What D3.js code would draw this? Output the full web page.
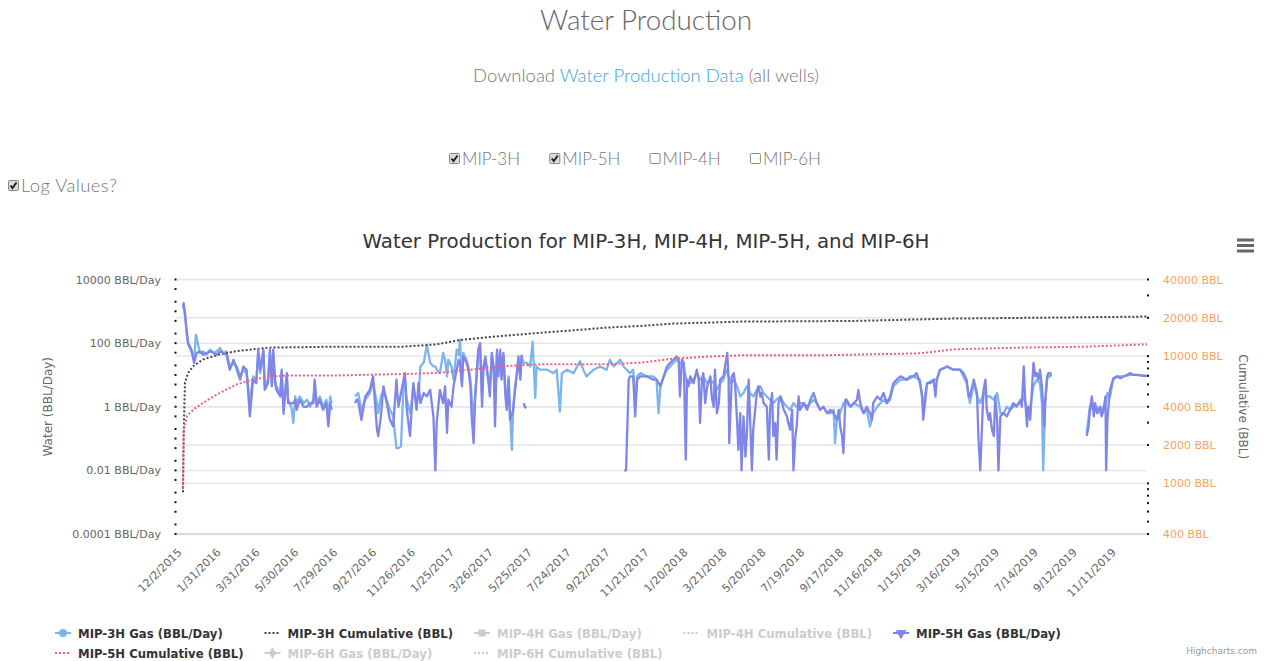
<!DOCTYPE html>
<html>
<head>
<meta charset="utf-8">
<script src="https://cdn.jsdelivr.net/npm/d3@7"></script>
<style>
  html, body { margin: 0; padding: 0; background: #fff; }
  svg { display: block; }
</style>
</head>
<body>
<svg id="page" width="1269" height="661"></svg>
<script>
// ---- Data -----------------------------------------------------------------
// x values are days since first production (12/2/2015)
const tickLabels = ["12/2/2015","1/31/2016","3/31/2016","5/30/2016","7/29/2016","9/27/2016",
  "11/26/2016","1/25/2017","3/26/2017","5/25/2017","7/24/2017","9/22/2017","11/21/2017",
  "1/20/2018","3/21/2018","5/20/2018","7/19/2018","9/17/2018","11/16/2018","1/15/2019",
  "3/16/2019","5/15/2019","7/14/2019","9/12/2019","11/11/2019"];
const tickIntervalDays = 60;
const lastDay = 1486;

const gasTicks = [0.0001, 0.01, 1, 100, 10000];
const cumTicks = [400, 1000, 2000, 4000, 10000, 20000, 40000];

const wellOptions = [
  { name: "MIP-3H", checked: true },
  { name: "MIP-5H", checked: true },
  { name: "MIP-4H", checked: false },
  { name: "MIP-6H", checked: false }
];

// MIP-3H daily water (BBL/Day)
const mip3hGas = [[0,1200],[1,1500],[3,700],[6,180],[8,90],[13,55],[17,30],[20,184],[24,79],[26,49],[31,55],[36,43],[42,62],[47,49],[52,55],[57,70],[62,49],[67,55],[72,18.5],[78,24],[83,18.5],[88,9],[93,14.6],[98,11.4],[103,1.3],[108,9],[113,7.1],[116,49],[119,11.4],[124,49],[126,4.4],[131,7.1],[134,49],[137,5.5],[139,49],[142,7.1],[144,4.4],[150,2.7],[152,11.4],[155,1.0],[160,9],[162,1.66],[167,1.0],[170,0.31],[173,2.1],[175,1.3],[180,2.1],[186,1.3],[191,1.66],[196,1.0],[201,1.66],[203,5.5],[206,1.3],[211,2.1],[216,1.0],[221,1.66],[224,0.5],[227,2.1],[229,1.3],[247,null],
  [265,2.1],[270,2.7],[275,0.8],[281,1.66],[288,2.7],[293,5.5],[299,1.3],[301,0.63],[305,2.1],[309,3.4],[314,1.66],[319,0.8],[324,0.5],[329,0.05],[332,0.05],[336,0.057],[340,5.5],[342,7.1],[345,1.66],[350,0.63],[353,1.66],[355,4.4],[360,1.3],[363,2.1],[366,18.5],[371,24],[376,89],[381,24],[386,18.5],[389,18.5],[391,14.6],[396,11.4],[401,49],[404,30],[407,9],[409,30],[414,18.5],[417,7.1],[422,62],[425,43],[427,128],[430,5.5],[432,49],[437,30],[440,18.5],[443,7.1],[445,2.1],[448,0.24],[450,2.1],[455,38],[458,62],[461,2.1],[463,18.5],[466,30],[471,7.1],[473,4.4],[476,38],[479,18.5],[481,1.0],[484,49],[486,14.6],[489,49],[491,9],[494,38],[497,3.4],[499,1.3],[502,9],[504,0.8],[507,0.044],[509,1.0],[512,4.4],[515,11.4],[517,30],[520,9],[522,38],[525,24],[530,24],[535,18.5],[539,110],[543,1.9],[545,18.5],[550,14.6],[561,14.6],[571,11.4],[576,14.6],[581,0.7],[584,11.4],[592,14.6],[602,11.4],[612,27],[617,14.6],[622,9],[633,14.6],[643,18.5],[653,14.6],[658,30],[664,18.5],[674,30],[679,18.5],[684,14.6],[689,11.4],[694,14.6],[697,1.0],[700,9],[705,11.4],[715,9],[725,9],[730,7.1],[733,0.63],[736,4.4],[741,9],[746,14.6],[751,18.5],[756,24],[761,30],[766,24],[772,18.5],[777,5.5],[782,5.5],[787,7.1],[792,11.4],[797,7.1],[802,9],[808,5.5],[813,7.1],[818,5.5],[823,3.4],[828,5.5],[833,7.1],[838,14.6],[844,5.5],[849,7.1],[854,4.4],[859,2.1],[864,2.7],[869,4.4],[874,2.7],[879,2.1],[885,3.4],[890,4.4],[895,2.7],[900,2.1],[905,1.66],[910,1.3],[915,1.66],[921,2.1],[926,1.3],[931,1.0],[936,0.8],[941,1.3],[946,1.0],[951,1.3],[957,1.3],[962,1.0],[967,1.3],[972,1.66],[977,1.3],[982,0.8],[987,1.0],[993,0.63],[998,0.63],[1003,0.8],[1005,0.072],[1008,0.39],[1013,0.63],[1018,1.3],[1023,1.3],[1029,1.0],[1034,1.3],[1044,1.0],[1049,0.63],[1054,0.8],[1059,0.24],[1064,0.63],[1070,1.0],[1075,1.3],[1080,1.66],[1085,1.3],[1090,1.66],[1095,4.4],[1100,5.5],[1106,7.1],[1116,7.1],[1126,9],[1136,7.1],[1141,1.0],[1147,5.5],[1157,7.1],[1162,7.1],[1167,14.6],[1178,18.5],[1188,14.6],[1198,14.6],[1208,5.5],[1213,1.3],[1219,5.5],[1224,2.1],[1229,1.3],[1234,2.7],[1239,2.1],[1244,2.1],[1250,1.66],[1255,2.7],[1260,0.63],[1265,0.63],[1270,1.0],[1275,0.8],[1280,1.0],[1291,1.3],[1296,2.1],[1301,0.8],[1306,1.0],[1311,4.4],[1316,7.1],[1321,5.5],[1324,1.3],[1326,0.01],[1328,0.24],[1329,1.3],[1332,7.1],[1334,9],[1338,9],[1360,null],
  [1393,0.15],[1398,1.0],[1404,0.8],[1409,1.0],[1414,0.63],[1419,1.0],[1422,1.3],[1425,2.7],[1429,2.1],[1432,4.4],[1434,7.1],[1440,9],[1450,9],[1460,10],[1470,10],[1486,9.4]];

// MIP-3H cumulative water (BBL)
const mip3hCum = [[0,850],[1,2350],[3,6180],[8,7400],[16,8360],[31,9420],[57,10330],[83,10960],[134,11660],[237,11870],[340,11870],[391,12370],[427,13380],[473,14130],[540,15100],[602,15960],[653,16750],[705,17260],[756,18010],[807,18330],[859,18670],[1034,18890],[1188,19720],[1342,20090],[1486,20460]];

// MIP-5H daily water (BBL/Day)
const mip5hGas = [[0,1400],[1,1800],[3,880],[6,210],[8,100],[13,62],[17,24],[21,49],[26,55],[31,43],[36,49],[42,55],[47,49],[52,43],[57,55],[62,49],[67,43],[72,14.6],[78,30],[83,14.6],[88,7.1],[93,18.5],[98,14.6],[103,0.5],[108,7.1],[113,5.5],[116,62],[119,14.6],[124,62],[126,3.4],[131,5.5],[134,62],[137,4.4],[139,62],[142,5.5],[144,3.4],[150,2.1],[152,14.6],[155,0.6],[160,11.4],[162,1.3],[167,1.3],[170,1.3],[173,1.66],[175,0.8],[180,1.66],[186,1.0],[191,1.0],[196,1.3],[201,1.3],[203,7.1],[206,1.0],[211,1.66],[216,0.8],[221,1.3],[224,0.24],[227,1.3],[229,0.8],[247,null],
  [265,1.3],[268,1.7],[270,1.5],[275,0.39],[281,2.1],[288,3.4],[293,9],[299,0.19],[301,0.12],[305,0.5],[309,4.4],[314,1.3],[319,0.39],[324,0.24],[329,7.1],[332,1.0],[340,7.1],[342,11.4],[345,0.8],[350,0.12],[353,1.3],[355,5.5],[360,0.8],[363,5.5],[366,1.3],[371,2.7],[376,2.1],[381,3.4],[386,0.5],[389,0.01],[391,0.3],[396,3.4],[401,1.3],[404,4.4],[407,0.15],[409,1.66],[414,1.0],[417,4.4],[422,14.6],[425,30],[427,24],[430,4.4],[432,38],[437,24],[440,14.6],[443,4.4],[445,0.5],[448,0.072],[450,1.3],[455,62],[458,100],[461,1.0],[463,14.6],[466,38],[471,5.5],[473,2.1],[476,49],[479,14.6],[481,0.24],[484,62],[486,9],[489,62],[491,7.1],[494,49],[497,2.1],[499,0.8],[502,7.1],[504,0.39],[507,0.6],[509,0.8],[512,3.4],[515,14.6],[517,38],[520,7.1],[522,43],[523,null],[525,1.3],[527,1.0],[529,0.9],[530,null],
  [680,0.01],[683,0.01],[687,7.1],[689,9],[694,9],[697,0.5],[700,7.1],[705,9],[715,9],[725,7.1],[730,7.1],[736,4.4],[741,9],[746,18.5],[751,24],[756,30],[761,38],[764,30],[766,2.1],[769,30],[772,24],[775,0.022],[777,7.1],[779,4.4],[782,9],[787,5.5],[792,14.6],[795,7.1],[797,0.31],[800,7.1],[802,11.4],[805,1.3],[808,4.4],[813,9],[815,2.1],[818,1.0],[820,14.6],[823,0.63],[826,1.3],[828,7.1],[833,9],[839,49],[841,7.1],[842,0.072],[846,9],[849,11.4],[851,5.5],[854,0.39],[856,0.044],[859,0.63],[861,0.01],[864,0.5],[867,0.027],[869,0.12],[872,7.1],[874,0.5],[877,0.01],[879,0.19],[882,0.8],[885,3.4],[887,4.4],[890,2.1],[892,2.7],[895,1.3],[900,1.0],[903,0.022],[905,0.8],[908,2.7],[910,0.12],[913,0.31],[915,0.022],[918,1.3],[921,2.1],[926,0.8],[931,0.5],[933,0.31],[936,0.19],[939,0.8],[941,0.01],[944,0.12],[946,0.24],[949,2.1],[951,0.8],[957,1.3],[962,0.8],[967,1.66],[972,2.7],[977,1.3],[982,0.8],[987,1.0],[993,0.63],[998,0.8],[1003,0.63],[1008,0.39],[1011,0.8],[1013,0.24],[1016,0.12],[1018,0.035],[1021,1.66],[1023,1.66],[1029,1.0],[1034,1.3],[1039,1.66],[1041,3.4],[1044,1.3],[1049,0.63],[1054,1.0],[1059,0.63],[1062,0.39],[1064,1.3],[1070,2.1],[1075,1.66],[1080,2.7],[1085,1.3],[1090,2.1],[1095,5.5],[1100,7.1],[1106,9],[1116,7.1],[1121,9],[1126,9],[1131,11.4],[1136,5.5],[1139,2.7],[1141,0.39],[1147,5.5],[1152,5.5],[1157,7.1],[1160,2.1],[1162,7.1],[1167,14.6],[1172,16],[1178,18.5],[1183,16],[1188,14.6],[1193,14.6],[1198,14.6],[1203,11.4],[1208,7.1],[1211,2.1],[1213,2.1],[1219,7.1],[1224,2.7],[1226,0.12],[1229,0.01],[1231,0.12],[1234,3.4],[1237,7.1],[1239,0.8],[1242,0.39],[1244,0.63],[1247,0.19],[1250,0.12],[1252,2.1],[1255,0.39],[1257,0.01],[1260,0.5],[1265,0.63],[1270,0.5],[1275,0.8],[1280,1.3],[1285,1.0],[1291,1.66],[1293,1.0],[1296,18.5],[1298,2.1],[1301,0.24],[1303,1.0],[1306,0.39],[1311,24],[1314,9],[1316,11.4],[1319,7.1],[1321,14.6],[1324,4.4],[1328,0.24],[1329,1.3],[1332,9],[1334,11.4],[1337,11.4],[1338,9],[1360,null],
  [1393,0.12],[1396,0.24],[1398,0.8],[1401,2.1],[1404,0.5],[1406,1.3],[1409,0.63],[1414,1.0],[1416,0.5],[1419,0.8],[1422,2.1],[1423,0.01],[1425,0.39],[1427,1.3],[1429,3.4],[1432,5.5],[1434,7.8],[1440,9],[1445,7.8],[1450,9],[1455,10],[1460,11.4],[1465,10],[1470,10],[1481,9.4],[1486,9.4]];

// MIP-5H cumulative water (BBL)
const mip5hCum = [[0,900],[1,2650],[6,3370],[16,3810],[31,4300],[57,5150],[83,6000],[108,6560],[134,6890],[160,7050],[237,7050],[340,7230],[396,7400],[422,7630],[448,7870],[499,8360],[551,8620],[653,8620],[705,8880],[756,9550],[807,9900],[859,10140],[982,10140],[1136,10520],[1188,11300],[1291,11660],[1393,11870],[1486,12370]];

// Series in legend order
const seriesList = [
  { name: "MIP-3H Gas (BBL/Day)",    color: "#7cb5ec", data: mip3hGas, axis: "gas", dotted: false, marker: "circle",   visible: true },
  { name: "MIP-3H Cumulative (BBL)", color: "#434348", data: mip3hCum, axis: "cum", dotted: true,  marker: null,       visible: true },
  { name: "MIP-4H Gas (BBL/Day)",    color: "#90ed7d", data: [],       axis: "gas", dotted: false, marker: "square",   visible: false },
  { name: "MIP-4H Cumulative (BBL)", color: "#f7a35c", data: [],       axis: "cum", dotted: true,  marker: null,       visible: false },
  { name: "MIP-5H Gas (BBL/Day)",    color: "#8085e9", data: mip5hGas, axis: "gas", dotted: false, marker: "triangle", visible: true },
  { name: "MIP-5H Cumulative (BBL)", color: "#f15c80", data: mip5hCum, axis: "cum", dotted: true,  marker: null,       visible: true },
  { name: "MIP-6H Gas (BBL/Day)",    color: "#e4d354", data: [],       axis: "gas", dotted: false, marker: "diamond",  visible: false },
  { name: "MIP-6H Cumulative (BBL)", color: "#2b908f", data: [],       axis: "cum", dotted: true,  marker: null,       visible: false }
];

// ---- Layout -----------------------------------------------------------------
const plot = { left: 176, right: 1147, top: 279.5, bottom: 534 };
const chartFont = "'DejaVu Sans', Verdana, sans-serif";
const pageFont = "Lato, 'Open Sans', sans-serif";

const svg = d3.select("#page");

// ---- Page header ------------------------------------------------------------
svg.append("text")
  .attr("x", 646).attr("y", 30)
  .attr("text-anchor", "middle")
  .attr("font-family", pageFont).attr("font-weight", 300).attr("font-size", 27.8)
  .attr("fill", "#666")
  .text("Water Production");

const dl = svg.append("text")
  .attr("x", 646).attr("y", 82)
  .attr("text-anchor", "middle")
  .attr("font-family", pageFont).attr("font-weight", 300).attr("font-size", 18.5)
  .attr("fill", "#777");
dl.append("tspan").text("Download ");
dl.append("tspan").attr("fill", "#3fa3d9").text("Water Production Data");
dl.append("tspan").text(" (all wells)");

function checkbox(g, x, y, checked) {
  g.append("rect").attr("x", x + 0.5).attr("y", y + 0.5).attr("width", 10).attr("height", 10)
    .attr("rx", 1).attr("fill", checked ? "#ddd" : "#fff").attr("stroke", "#888").attr("stroke-width", 1);
  if (checked) {
    g.append("path")
      .attr("d", `M${x + 2.5},${y + 5.5} L${x + 4.5},${y + 8} L${x + 8.5},${y + 2.5}`)
      .attr("fill", "none").attr("stroke", "#222").attr("stroke-width", 2);
  }
}

const wellRow = svg.append("g");
wellOptions.forEach((w, i) => {
  const x0 = 449 + i * 100.3;
  checkbox(wellRow, x0, 153, w.checked);
  wellRow.append("text")
    .attr("x", x0 + 13).attr("y", 165)
    .attr("font-family", pageFont).attr("font-weight", 300).attr("font-size", 17)
    .attr("fill", "#777").text(w.name);
});

checkbox(svg, 8, 180, true);
svg.append("text")
  .attr("x", 21).attr("y", 192)
  .attr("font-family", pageFont).attr("font-weight", 300).attr("font-size", 18.5)
  .attr("letter-spacing", 0.4)
  .attr("fill", "#777").text("Log Values?");

// ---- Chart title and menu -------------------------------------------------------
svg.append("text")
  .attr("x", 646).attr("y", 248)
  .attr("text-anchor", "middle")
  .attr("font-family", chartFont).attr("font-size", 19.8)
  .attr("fill", "#333")
  .text("Water Production for MIP-3H, MIP-4H, MIP-5H, and MIP-6H");

const menu = svg.append("g").attr("stroke", "#666").attr("stroke-width", 3);
[240, 245.5, 251].forEach(y => {
  menu.append("line").attr("x1", 1237).attr("x2", 1254).attr("y1", y).attr("y2", y);
});

// ---- Scales -------------------------------------------------------------------
const x = d3.scaleLinear().domain([-10.8, lastDay]).range([plot.left, plot.right]);
const yGas = d3.scaleLog().domain([0.0001, 10000]).range([plot.bottom, plot.top]);
const yCum = d3.scaleLog().domain([400, 40000]).range([plot.bottom, plot.top]);

// ---- Grid -----------------------------------------------------------------------
const grid = svg.append("g").attr("stroke", "#e6e6e6").attr("stroke-width", 1.5);
gasTicks.forEach(v => grid.append("line").attr("x1", plot.left).attr("x2", plot.right)
  .attr("y1", yGas(v)).attr("y2", yGas(v)));
cumTicks.forEach(v => grid.append("line").attr("x1", plot.left).attr("x2", plot.right)
  .attr("y1", yCum(v)).attr("y2", yCum(v)));

// x axis line
svg.append("line").attr("x1", plot.left).attr("x2", plot.right)
  .attr("y1", plot.bottom).attr("y2", plot.bottom)
  .attr("stroke", "#ccd6eb").attr("stroke-width", 1.5);

// minor tick dots
const gasMinor = [];
for (let k = -4; k <= 4; k++) [1, 2, 5].forEach(m => {
  const v = m * Math.pow(10, k);
  if (v >= 0.0001 && v <= 10000) gasMinor.push(v);
});
const cumMinor = [];
for (let k = 2; k <= 4; k++) for (let m = 1; m <= 9; m++) {
  const v = m * Math.pow(10, k);
  if (v >= 400 && v <= 40000) cumMinor.push(v);
}
const dots = svg.append("g").attr("fill", "#111");
gasMinor.forEach(v => dots.append("rect").attr("x", plot.left - 1.5).attr("y", yGas(v) - 1).attr("width", 2).attr("height", 2));
cumMinor.forEach(v => dots.append("rect").attr("x", plot.right).attr("y", yCum(v) - 1).attr("width", 2).attr("height", 2));

// ---- Axes ---------------------------------------------------------------------
const axisLeft = svg.append("g").attr("transform", `translate(${plot.left},0)`)
  .call(d3.axisLeft(yGas).tickValues(gasTicks).tickFormat(d => `${d} BBL/Day`).tickSize(0).tickPadding(15));
axisLeft.select(".domain").remove();
axisLeft.selectAll("text").attr("font-family", chartFont).attr("font-size", 11).attr("fill", "#666");

const axisRight = svg.append("g").attr("transform", `translate(${plot.right},0)`)
  .call(d3.axisRight(yCum).tickValues(cumTicks).tickFormat(d => `${d} BBL`).tickSize(0).tickPadding(16));
axisRight.select(".domain").remove();
axisRight.selectAll("text").attr("font-family", chartFont).attr("font-size", 11).attr("fill", "#f7a35c");

const axisBottom = svg.append("g").attr("transform", `translate(0,${plot.bottom})`)
  .call(d3.axisBottom(x).tickValues(tickLabels.map((_, i) => i * tickIntervalDays))
    .tickFormat((d, i) => tickLabels[i]).tickSize(0));
axisBottom.select(".domain").remove();
axisBottom.selectAll("text")
  .attr("x", 0).attr("y", 0).attr("dy", 0)
  .attr("text-anchor", "end")
  .attr("transform", "translate(-1,19) rotate(-45)")
  .attr("font-family", chartFont).attr("font-size", 11).attr("fill", "#666");

// axis titles
svg.append("text")
  .attr("transform", `translate(52,${(plot.top + plot.bottom) / 2}) rotate(-90)`)
  .attr("text-anchor", "middle")
  .attr("font-family", chartFont).attr("font-size", 12).attr("fill", "#666")
  .text("Water (BBL/Day)");
svg.append("text")
  .attr("transform", `translate(1239,${(plot.top + plot.bottom) / 2}) rotate(90)`)
  .attr("text-anchor", "middle")
  .attr("font-family", chartFont).attr("font-size", 12).attr("fill", "#666")
  .text("Cumulative (BBL)");

// ---- Series -----------------------------------------------------------------------
const seriesG = svg.append("g");
seriesList.filter(s => s.visible).forEach(s => {
  const yScale = s.axis === "gas" ? yGas : yCum;
  const line = d3.line()
    .defined(d => d[1] != null)
    .x(d => x(d[0]))
    .y(d => yScale(d[1]));
  seriesG.append("path")
    .datum(s.data)
    .attr("d", line)
    .attr("fill", "none")
    .attr("stroke", s.color)
    .attr("stroke-width", s.dotted ? 2 : 2.3)
    .attr("stroke-linejoin", "round")
    .attr("stroke-dasharray", s.dotted ? "2,2" : null);
});

// ---- Legend ---------------------------------------------------------------------
const legend = svg.append("g");
seriesList.forEach((s, i) => {
  const col = i % 5, row = Math.floor(i / 5);
  const x0 = 55 + col * 209.5, y0 = 633 + row * 20;
  const c = s.visible ? s.color : "#ccc";
  const item = legend.append("g");
  item.append("line").attr("x1", x0).attr("x2", x0 + 16).attr("y1", y0).attr("y2", y0)
    .attr("stroke", c).attr("stroke-width", 2)
    .attr("stroke-dasharray", s.dotted ? "2,2" : null);
  if (s.marker) {
    const sym = { circle: d3.symbolCircle, square: d3.symbolSquare, diamond: d3.symbolDiamond, triangle: d3.symbolTriangle }[s.marker];
    const rot = s.marker === "triangle" ? " rotate(180)" : "";
    item.append("path")
      .attr("d", d3.symbol(sym, s.marker === "diamond" ? 40 : 50)())
      .attr("transform", `translate(${x0 + 8},${y0})${rot}`)
      .attr("fill", c);
  }
  item.append("text")
    .attr("x", x0 + 23).attr("y", y0 + 4.5)
    .attr("font-family", chartFont).attr("font-weight", "bold").attr("font-size", 11.7)
    .attr("fill", s.visible ? "#333" : "#ccc")
    .text(s.name);
});

// credits
svg.append("text")
  .attr("x", 1257).attr("y", 654)
  .attr("text-anchor", "end")
  .attr("font-family", chartFont).attr("font-size", 9).attr("fill", "#999")
  .text("Highcharts.com");
</script>
</body>
</html>
